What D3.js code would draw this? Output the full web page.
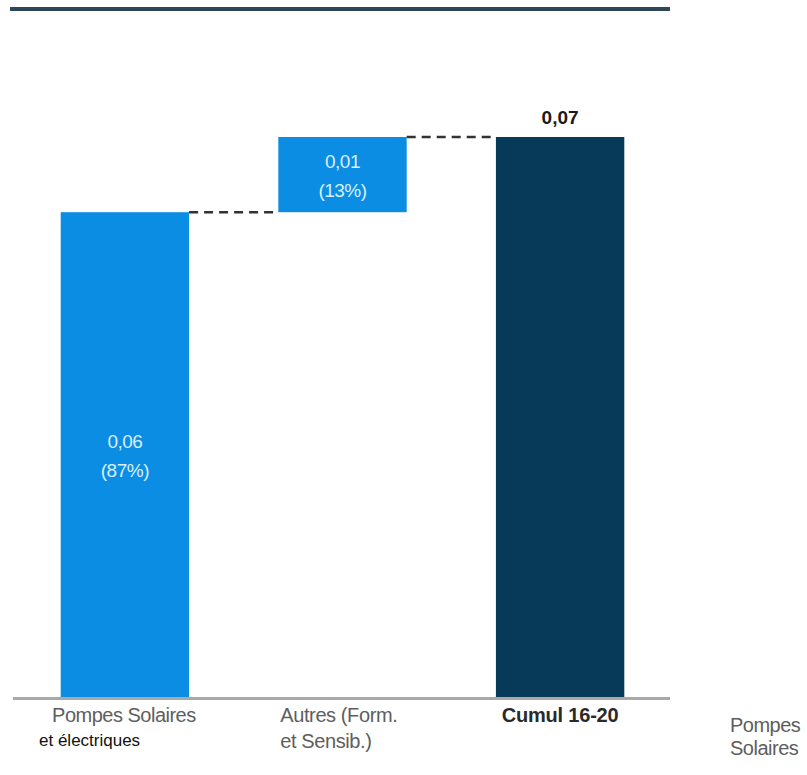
<!DOCTYPE html>
<html>
<head>
<meta charset="utf-8">
<script src="https://cdn.jsdelivr.net/npm/d3@7"></script>
<style>
  html, body { margin: 0; padding: 0; background: #ffffff; }
  svg { display: block; }
</style>
</head>
<body>
<script>
// ---- data ----
const categories = ["Pompes Solaires", "Autres (Form.", "Cumul 16-20"];
const categoryLines2 = ["et électriques", "et Sensib.)", ""];
const contributions = [0.0606, 0.0094];   // waterfall steps
const totalLabel = "Cumul 16-20";
const sideLabel = ["Pompes", "Solaires"];

const W = 807, H = 775;
const svg = d3.select("body").append("svg").attr("width", W).attr("height", H);

const total = d3.sum(contributions);
const bars = [];
let acc = 0;
contributions.forEach((v, i) => {
  bars.push({ cat: categories[i], start: acc, end: acc + v, value: v, share: v / total, type: "step" });
  acc += v;
});
bars.push({ cat: categories[2], start: 0, end: total, value: total, share: 1, type: "total" });

const x = d3.scaleBand().domain(categories).range([15, 670]).paddingInner(0.41).paddingOuter(0.21);
const y = d3.scaleLinear().domain([0, 0.07]).range([697, 137]);

const fmt = v => d3.format(".2f")(v).replace(".", ",");
const pct = v => "(" + Math.round(v * 100) + "%)";

// top rule
svg.append("line").attr("x1", 10).attr("x2", 670).attr("y1", 9).attr("y2", 9)
  .attr("stroke", "#2e4656").attr("stroke-width", 4);

// bars
svg.selectAll("rect.bar").data(bars).enter().append("rect")
  .attr("x", d => x(d.cat))
  .attr("width", x.bandwidth())
  .attr("y", d => y(d.end))
  .attr("height", d => y(d.start) - y(d.end))
  .attr("fill", d => d.type === "total" ? "#063a58" : "#0b8de3");

// connectors
for (let i = 0; i < bars.length - 1; i++) {
  const b = bars[i], n = bars[i + 1];
  svg.append("line")
    .attr("x1", x(b.cat) + x.bandwidth()).attr("x2", x(n.cat))
    .attr("y1", y(b.end)).attr("y2", y(b.end))
    .attr("stroke", "#333").attr("stroke-width", 2.5).attr("stroke-dasharray", "9,6");
}

// baseline
svg.append("line").attr("x1", 13).attr("x2", 670).attr("y1", y(0) + 1.5).attr("y2", y(0) + 1.5)
  .attr("stroke", "#a9a9a9").attr("stroke-width", 3);

// value labels in step bars
bars.filter(d => d.type === "step").forEach(d => {
  const cx = x(d.cat) + x.bandwidth() / 2;
  const cy = (y(d.start) + y(d.end)) / 2;
  const t = svg.append("text").attr("x", cx).attr("text-anchor", "middle")
    .attr("font-family", "Liberation Sans, Arial, sans-serif").attr("font-size", 19)
    .attr("letter-spacing", -0.5)
    .attr("fill", "#d8efff");
  t.append("tspan").attr("x", cx).attr("y", cy - 7).text(fmt(d.value));
  t.append("tspan").attr("x", cx).attr("y", cy + 22).text(pct(d.share));
});

// total label
const tb = bars[bars.length - 1];
svg.append("text").attr("x", x(tb.cat) + x.bandwidth() / 2).attr("y", y(tb.end) - 13)
  .attr("text-anchor", "middle").attr("font-family", "Liberation Sans, Arial, sans-serif")
  .attr("font-weight", "bold").attr("font-size", 19).attr("fill", "#1a1a1a").text(fmt(tb.value));

// category labels
const fam = "Liberation Sans, Arial, sans-serif";
const gray = "#5e5e5e";
svg.append("text").attr("x", x(categories[0]) + x.bandwidth() / 2 - 1).attr("y", 722)
  .attr("text-anchor", "middle").attr("font-family", fam).attr("font-size", 20)
  .attr("letter-spacing", -0.5).attr("fill", gray).text(categories[0]);
svg.append("text").attr("x", 39).attr("y", 746)
  .attr("font-family", fam).attr("font-size", 17).attr("fill", "#111").text(categoryLines2[0]);

svg.append("text").attr("x", x(categories[1]) + 2).attr("y", 722)
  .attr("font-family", fam).attr("font-size", 20).attr("letter-spacing", -0.4)
  .attr("fill", gray).text(categories[1]);
svg.append("text").attr("x", x(categories[1]) + 2).attr("y", 748)
  .attr("font-family", fam).attr("font-size", 20).attr("letter-spacing", -0.4)
  .attr("fill", gray).text(categoryLines2[1]);

svg.append("text").attr("x", x(categories[2]) + x.bandwidth() / 2).attr("y", 722)
  .attr("text-anchor", "middle").attr("font-family", fam).attr("font-size", 20)
  .attr("font-weight", "bold").attr("letter-spacing", -0.2).attr("fill", "#2a2a2a").text(totalLabel);

svg.append("text").attr("x", 730).attr("y", 732)
  .attr("font-family", fam).attr("font-size", 20).attr("letter-spacing", -0.5)
  .attr("fill", gray).text(sideLabel[0]);
svg.append("text").attr("x", 730).attr("y", 755)
  .attr("font-family", fam).attr("font-size", 20).attr("letter-spacing", -0.5)
  .attr("fill", gray).text(sideLabel[1]);
</script>
</body>
</html>
